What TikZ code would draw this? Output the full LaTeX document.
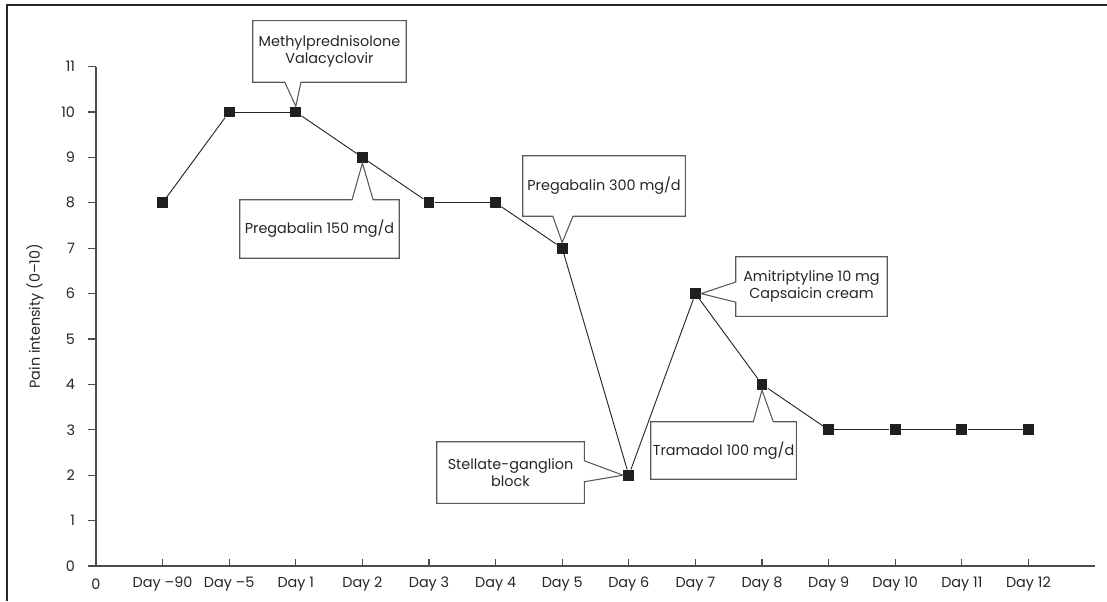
\documentclass[tikz,border=0pt]{standalone}
\usepackage{fontspec}
\setmainfont{Poppins}
\usetikzlibrary{calc}

\tikzset{
  pt/.style={rectangle, fill=black!88, minimum size=8.2pt, inner sep=0pt},
  note/.style={align=center, inner sep=0pt, text=black!85},
  callout/.style={draw=black!65, line width=0.8pt},
  trace/.style={black!85, line width=0.7pt},
  axis/.style={black!70, line width=0.8pt}
}

\begin{document}
\begin{tikzpicture}[x=49.95pt,y=34.05pt,font=\fontsize{10.8}{13}\selectfont]

\useasboundingbox (-1.4414,-0.771) rectangle (15.180,12.467);

% Frame
\draw[black!85, line width=1.3pt] (-1.336,-0.771) -- (-1.336,12.357) -- (15.180,12.357);

% Axes
\draw[axis] (0,11) -- (0,0) -- (15,0);
\foreach \y in {0,...,11}
  \draw[axis] (0,\y) -- (-0.12,\y) node[left=6pt, text=black!85] {\y};
\node[text=black!85] (x0) at (0,-0.396) {0};
\foreach \lab [count=\i] in {Day –90,Day –5,Day 1,Day 2,Day 3,Day 4,Day 5,Day 6,Day 7,Day 8,Day 9,Day 10,Day 11,Day 12}{
  \draw[axis] (\i,0) -- (\i,0.154);
  \node[text=black!85] (xl\i) at (\i,-0.396) {\lab};
}
\node[rotate=90, text=black!85] (ylab) at (-0.916,5.5) {Pain intensity (0–10)};

% Data points
\foreach \d [count=\i] in {8,10,10,9,8,8,7,2,6,4,3,3,3,3}
  \node[pt] (p\i) at (\i,\d) {};
\foreach \i [remember=\i as \j (initially 1)] in {2,...,14}
  \draw[trace] (p\j) -- (p\i);

% Callouts
\node[note, minimum width=114.75pt, minimum height=45.75pt] (methyl) at (3.506,11.333) {Methylprednisolone\\Valacyclovir};
\node[note, minimum width=119.25pt, minimum height=43.5pt] (preg150) at (3.356,7.423) {Pregabalin 150 mg/d};
\node[note, minimum width=121.5pt, minimum height=45pt] (preg300) at (7.628,8.370) {Pregabalin 300 mg/d};
\node[note, minimum width=110.25pt, minimum height=45.75pt] (stellate) at (6.224,2.059) {Stellate-ganglion\\block};
\node[note, minimum width=108.75pt, minimum height=42.75pt] (tramadol) at (9.422,2.544) {Tramadol 100 mg/d};
\node[note, minimum width=113.25pt, minimum height=44.25pt] (amitrip) at (10.743,6.156) {Amitriptyline 10 mg\\Capsaicin cream};

\draw[callout] (methyl.north west) -- (methyl.north east) -- (methyl.south east)
  -- ($(methyl.south west)!0.314!(methyl.south east)$) -- (p3.north)
  -- ($(methyl.south west)!0.209!(methyl.south east)$) -- (methyl.south west) -- cycle;
\draw[callout] (preg150.south west) -- (preg150.north west)
  -- ($(preg150.north west)!0.704!(preg150.north east)$) -- (p4.south)
  -- ($(preg150.north west)!0.836!(preg150.north east)$) -- (preg150.north east) -- (preg150.south east) -- cycle;
\draw[callout] (preg300.north west) -- (preg300.north east) -- (preg300.south east)
  -- ($(preg300.south west)!0.309!(preg300.south east)$) -- (p7.north)
  -- ($(preg300.south west)!0.185!(preg300.south east)$) -- (preg300.south west) -- cycle;
\draw[callout] (stellate.north west) -- (stellate.north east)
  -- ($(stellate.north east)!0.31!(stellate.south east)$) -- (p8.west)
  -- ($(stellate.north east)!0.65!(stellate.south east)$) -- (stellate.south east) -- (stellate.south west) -- cycle;
\draw[callout] (tramadol.south west) -- (tramadol.north west)
  -- ($(tramadol.north west)!0.705!(tramadol.north east)$) -- (p10.south)
  -- ($(tramadol.north west)!0.842!(tramadol.north east)$) -- (tramadol.north east) -- (tramadol.south east) -- cycle;
\draw[callout] (amitrip.north east) -- (amitrip.north west)
  -- ($(amitrip.north west)!0.424!(amitrip.south west)$) -- (p9.east)
  -- ($(amitrip.north west)!0.763!(amitrip.south west)$) -- (amitrip.south west) -- (amitrip.south east) -- cycle;

\end{tikzpicture}
\end{document}
